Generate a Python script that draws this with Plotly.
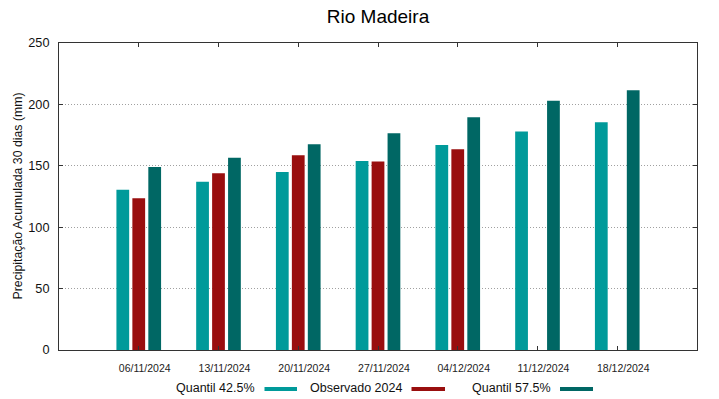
import plotly.graph_objects as go

categories = ["06/11/2024", "13/11/2024", "20/11/2024", "27/11/2024",
              "04/12/2024", "11/12/2024", "18/12/2024"]
quantil_425 = [130.5, 137, 145, 154, 167, 178, 185.5]
observado_2024 = [123.5, 144, 158.5, 153.5, 163.5, None, None]
quantil_575 = [149, 156.5, 167.5, 176.5, 189.5, 203, 211.5]
y_ticks = [0, 50, 100, 150, 200, 250]

series_names = ["Quantil 42.5%", "Observado 2024", "Quantil 57.5%"]
series_colors = ["#009a9a", "#990e0e", "#006764"]
series_values = [quantil_425, observado_2024, quantil_575]

FONT = "Liberation Sans, Arial, sans-serif"
W, H = 719, 399
L, R, T, B = 59, 22, 43, 49

fig = go.Figure()
for name, color, vals in zip(series_names, series_colors, series_values):
    fig.add_trace(go.Bar(x=categories, y=vals, name=name,
                         marker=dict(color=color, line=dict(width=0)),
                         showlegend=False))

fig.update_layout(
    template="none",
    width=W, height=H, autosize=False,
    margin=dict(l=L, r=R, t=T, b=B, pad=0, autoexpand=False),
    paper_bgcolor="white", plot_bgcolor="white",
    barmode="group", bargap=0.4, bargroupgap=0.2,
    font=dict(family=FONT, color="#000000"),
    showlegend=False,
    title=dict(text="Rio Madeira", x=(L + (W - R)) / 2 / W, xanchor="center",
               xref="container",
               y=1 - 16 / H, yanchor="middle", yref="container",
               font=dict(size=19, family=FONT, color="#000000")),
    xaxis=dict(type="category", range=[-1, 7], automargin=False,
               showline=True, linecolor="#333333", linewidth=1, mirror="ticks",
               ticks="inside", ticklen=4, tickcolor="#333333", tickwidth=1,
               tickfont=dict(size=10.5, family=FONT, color="#222222"),
               ticklabelshift=6, ticklabelstandoff=8,
               showgrid=False, zeroline=False),
    yaxis=dict(range=[0, 250], tickvals=y_ticks, automargin=False,
               showline=True, linecolor="#333333", linewidth=1, mirror="ticks",
               ticks="inside", ticklen=4, tickcolor="#333333", tickwidth=1,
               tickfont=dict(size=12.7, family=FONT, color="#111111"),
               ticklabelstandoff=6,
               showgrid=True, gridcolor="#a0a0a0", gridwidth=1,
               griddash="1px,2px",
               zeroline=False),
)

# y-axis title
fig.add_annotation(text="Precipitação Acumulada 30 dias (mm)", textangle=-90,
                   xref="paper", yref="paper", x=(17 - L) / (W - L - R), y=0.5,
                   xanchor="center", yanchor="middle", showarrow=False,
                   font=dict(size=12.3, family=FONT, color="#111111"))

# custom legend (text followed by swatch, gnuplot style)
pw, ph = W - L - R, H - T - B
def px(xp):
    return (xp - L) / pw
def py(yp):
    return (H - B - yp) / ph

legend_text_right = [256.5, 403.5, 552.5]
legend_swatch = [(264.5, 297), (411.5, 445), (560, 593)]
for name, color, tr, (s0, s1) in zip(series_names, series_colors,
                                      legend_text_right, legend_swatch):
    fig.add_annotation(text=name, xref="paper", yref="paper",
                       x=px(tr), y=py(387.5), xanchor="right", yanchor="middle",
                       showarrow=False,
                       font=dict(size=12.5, family=FONT, color="#111111"))
    fig.add_shape(type="rect", xref="paper", yref="paper",
                  x0=px(s0), x1=px(s1), y0=py(391), y1=py(387),
                  fillcolor=color, line=dict(width=0))

fig.write_html("out.html",
               config={"displayModeBar": False, "staticPlot": True},
               post_script="document.body.style.margin='0';"
                           "document.body.style.overflow='hidden';")
